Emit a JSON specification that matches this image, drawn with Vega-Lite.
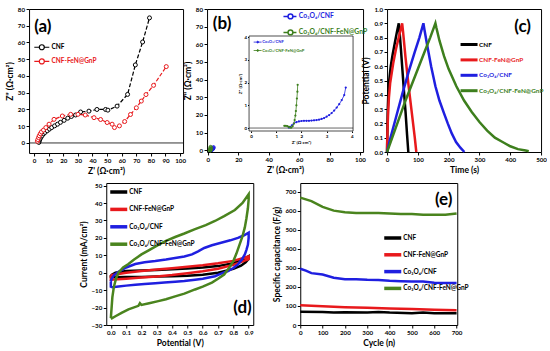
{
"$schema":"https://vega.github.io/schema/vega-lite/v6.json",
"padding":{"left":4,"top":5,"right":0,"bottom":0},
"background":"white",
"config":{
 "font":"Lato",
 "view":{"stroke":"black","strokeWidth":1},
 "axis":{"labelFont":"Lato","labelFontWeight":"bold","labelFontSize":6.2,"labelColor":"black","labelOverlap":false,"labelFlush":false,"labelBound":false,"titleFont":"Lato","titleFontWeight":"bold","titleFontSize":8.5,"titleColor":"black","grid":false,"domain":false,"tickColor":"black","tickSize":3,"labelPadding":1.5,"titlePadding":3},
 "legend":{"labelFont":"Lato","labelFontWeight":"bold","labelFontSize":6.5,"labelColor":"black","rowPadding":2.4,"symbolType":"M-1,0H7.5","symbolStrokeWidth":3,"symbolSize":16,"labelOffset":13,"padding":0,"title":null}
},
"datasets":{
"a":[
{"s":"CNF","x":3.2,"y":0.3},{"s":"CNF","x":3.5,"y":1.2},{"s":"CNF","x":3.8,"y":2},{"s":"CNF","x":4.2,"y":2.8},{"s":"CNF","x":4.8,"y":3.6},{"s":"CNF","x":5.5,"y":4.5},{"s":"CNF","x":6.5,"y":5.5},{"s":"CNF","x":7.5,"y":6.3},{"s":"CNF","x":9,"y":7.3},{"s":"CNF","x":10.5,"y":8.3},{"s":"CNF","x":12,"y":9.2},{"s":"CNF","x":14,"y":10.2},{"s":"CNF","x":16,"y":11.2},{"s":"CNF","x":18,"y":12.3},{"s":"CNF","x":20.5,"y":13.5},{"s":"CNF","x":23,"y":14.8},{"s":"CNF","x":25.5,"y":15.8},{"s":"CNF","x":28.4,"y":16.7},{"s":"CNF","x":31.8,"y":18.5},{"s":"CNF","x":37.5,"y":19},{"s":"CNF","x":43,"y":20},{"s":"CNF","x":48.9,"y":20},{"s":"CNF","x":50.5,"y":19.6},{"s":"CNF","x":56.8,"y":22},{"s":"CNF","x":64,"y":29},{"s":"CNF","x":69.3,"y":46.6},{"s":"CNF","x":74.3,"y":60.3},{"s":"CNF","x":79,"y":74.7},
{"s":"CNF-FeN@GnP","x":2.2,"y":1},{"s":"CNF-FeN@GnP","x":2.5,"y":2},{"s":"CNF-FeN@GnP","x":3,"y":3.2},{"s":"CNF-FeN@GnP","x":3.5,"y":4.3},{"s":"CNF-FeN@GnP","x":4.2,"y":5.5},{"s":"CNF-FeN@GnP","x":5,"y":6.6},{"s":"CNF-FeN@GnP","x":6.4,"y":7.7},{"s":"CNF-FeN@GnP","x":8,"y":9.2},{"s":"CNF-FeN@GnP","x":10.2,"y":11.2},{"s":"CNF-FeN@GnP","x":13.6,"y":14.1},{"s":"CNF-FeN@GnP","x":19.3,"y":16.1},{"s":"CNF-FeN@GnP","x":25,"y":17.1},{"s":"CNF-FeN@GnP","x":30,"y":17.1},{"s":"CNF-FeN@GnP","x":35,"y":16.7},{"s":"CNF-FeN@GnP","x":41,"y":15.1},{"s":"CNF-FeN@GnP","x":45.5,"y":14},{"s":"CNF-FeN@GnP","x":50,"y":12.2},{"s":"CNF-FeN@GnP","x":53.4,"y":11.2},{"s":"CNF-FeN@GnP","x":55,"y":9.2},{"s":"CNF-FeN@GnP","x":58.4,"y":10.2},{"s":"CNF-FeN@GnP","x":62,"y":12.8},{"s":"CNF-FeN@GnP","x":66,"y":17},{"s":"CNF-FeN@GnP","x":70,"y":21},{"s":"CNF-FeN@GnP","x":73.4,"y":25},{"s":"CNF-FeN@GnP","x":76.6,"y":28.9},{"s":"CNF-FeN@GnP","x":81.8,"y":34.4},{"s":"CNF-FeN@GnP","x":90.5,"y":45.6}
],
"b":[
{"s":"Co₃O₄/CNF","x":1.5,"y":0.02},{"s":"Co₃O₄/CNF","x":1.55,"y":0.05},{"s":"Co₃O₄/CNF","x":1.62,"y":0.12},{"s":"Co₃O₄/CNF","x":1.7,"y":0.2},{"s":"Co₃O₄/CNF","x":1.8,"y":0.26},{"s":"Co₃O₄/CNF","x":1.9,"y":0.29},{"s":"Co₃O₄/CNF","x":2.0,"y":0.31},{"s":"Co₃O₄/CNF","x":2.1,"y":0.32},{"s":"Co₃O₄/CNF","x":2.2,"y":0.32},{"s":"Co₃O₄/CNF","x":2.3,"y":0.32},{"s":"Co₃O₄/CNF","x":2.4,"y":0.33},{"s":"Co₃O₄/CNF","x":2.5,"y":0.34},{"s":"Co₃O₄/CNF","x":2.6,"y":0.35},{"s":"Co₃O₄/CNF","x":2.7,"y":0.37},{"s":"Co₃O₄/CNF","x":2.8,"y":0.4},{"s":"Co₃O₄/CNF","x":2.9,"y":0.44},{"s":"Co₃O₄/CNF","x":3.0,"y":0.5},{"s":"Co₃O₄/CNF","x":3.1,"y":0.57},{"s":"Co₃O₄/CNF","x":3.2,"y":0.66},{"s":"Co₃O₄/CNF","x":3.3,"y":0.77},{"s":"Co₃O₄/CNF","x":3.4,"y":0.9},{"s":"Co₃O₄/CNF","x":3.5,"y":1.05},{"s":"Co₃O₄/CNF","x":3.6,"y":1.23},{"s":"Co₃O₄/CNF","x":3.7,"y":1.45},{"s":"Co₃O₄/CNF","x":3.76,"y":1.78},
{"s":"Co₃O₄/CNF-FeN@GnP","x":1.32,"y":0.1},{"s":"Co₃O₄/CNF-FeN@GnP","x":1.38,"y":0.1},{"s":"Co₃O₄/CNF-FeN@GnP","x":1.44,"y":0.08},{"s":"Co₃O₄/CNF-FeN@GnP","x":1.5,"y":0.05},{"s":"Co₃O₄/CNF-FeN@GnP","x":1.55,"y":0.02},{"s":"Co₃O₄/CNF-FeN@GnP","x":1.6,"y":0.02},{"s":"Co₃O₄/CNF-FeN@GnP","x":1.65,"y":0.08},{"s":"Co₃O₄/CNF-FeN@GnP","x":1.7,"y":0.2},{"s":"Co₃O₄/CNF-FeN@GnP","x":1.73,"y":0.35},{"s":"Co₃O₄/CNF-FeN@GnP","x":1.76,"y":0.55},{"s":"Co₃O₄/CNF-FeN@GnP","x":1.78,"y":0.75},{"s":"Co₃O₄/CNF-FeN@GnP","x":1.8,"y":1.0},{"s":"Co₃O₄/CNF-FeN@GnP","x":1.82,"y":1.3},{"s":"Co₃O₄/CNF-FeN@GnP","x":1.84,"y":1.6},{"s":"Co₃O₄/CNF-FeN@GnP","x":1.85,"y":1.9}
],
"c":[
{"s":"CNF","x":0,"y":0},{"s":"CNF","x":1,"y":0.15},{"s":"CNF","x":2,"y":0.28},{"s":"CNF","x":4,"y":0.4},{"s":"CNF","x":7,"y":0.5},{"s":"CNF","x":12,"y":0.6},{"s":"CNF","x":18,"y":0.68},{"s":"CNF","x":25,"y":0.76},{"s":"CNF","x":32,"y":0.84},{"s":"CNF","x":38,"y":0.9},{"s":"CNF","x":40,"y":0.86},{"s":"CNF","x":45,"y":0.72},{"s":"CNF","x":50,"y":0.57},{"s":"CNF","x":55,"y":0.42},{"s":"CNF","x":60,"y":0.28},{"s":"CNF","x":65,"y":0.12},{"s":"CNF","x":69,"y":0},
{"s":"CNF-FeN@GnP","x":0,"y":0},{"s":"CNF-FeN@GnP","x":1,"y":0.12},{"s":"CNF-FeN@GnP","x":3,"y":0.25},{"s":"CNF-FeN@GnP","x":6,"y":0.38},{"s":"CNF-FeN@GnP","x":10,"y":0.48},{"s":"CNF-FeN@GnP","x":20,"y":0.62},{"s":"CNF-FeN@GnP","x":30,"y":0.73},{"s":"CNF-FeN@GnP","x":40,"y":0.82},{"s":"CNF-FeN@GnP","x":49,"y":0.9},{"s":"CNF-FeN@GnP","x":52,"y":0.84},{"s":"CNF-FeN@GnP","x":60,"y":0.66},{"s":"CNF-FeN@GnP","x":70,"y":0.46},{"s":"CNF-FeN@GnP","x":80,"y":0.28},{"s":"CNF-FeN@GnP","x":90,"y":0.1},{"s":"CNF-FeN@GnP","x":95,"y":0},
{"s":"Co₃O₄/CNF","x":0,"y":0},{"s":"Co₃O₄/CNF","x":10,"y":0.09},{"s":"Co₃O₄/CNF","x":30,"y":0.25},{"s":"Co₃O₄/CNF","x":50,"y":0.41},{"s":"Co₃O₄/CNF","x":70,"y":0.56},{"s":"Co₃O₄/CNF","x":90,"y":0.7},{"s":"Co₃O₄/CNF","x":105,"y":0.8},{"s":"Co₃O₄/CNF","x":118,"y":0.9},{"s":"Co₃O₄/CNF","x":121,"y":0.86},{"s":"Co₃O₄/CNF","x":130,"y":0.75},{"s":"Co₃O₄/CNF","x":143,"y":0.6},{"s":"Co₃O₄/CNF","x":157,"y":0.46},{"s":"Co₃O₄/CNF","x":170,"y":0.36},{"s":"Co₃O₄/CNF","x":185,"y":0.27},{"s":"Co₃O₄/CNF","x":197,"y":0.2},{"s":"Co₃O₄/CNF","x":210,"y":0.13},{"s":"Co₃O₄/CNF","x":224,"y":0.07},{"s":"Co₃O₄/CNF","x":238,"y":0.03},{"s":"Co₃O₄/CNF","x":251,"y":0},
{"s":"Co₃O₄/CNF-FeN@GnP","x":0,"y":0},{"s":"Co₃O₄/CNF-FeN@GnP","x":20,"y":0.12},{"s":"Co₃O₄/CNF-FeN@GnP","x":40,"y":0.24},{"s":"Co₃O₄/CNF-FeN@GnP","x":60,"y":0.36},{"s":"Co₃O₄/CNF-FeN@GnP","x":80,"y":0.47},{"s":"Co₃O₄/CNF-FeN@GnP","x":100,"y":0.58},{"s":"Co₃O₄/CNF-FeN@GnP","x":120,"y":0.69},{"s":"Co₃O₄/CNF-FeN@GnP","x":140,"y":0.8},{"s":"Co₃O₄/CNF-FeN@GnP","x":157,"y":0.9},{"s":"Co₃O₄/CNF-FeN@GnP","x":160,"y":0.87},{"s":"Co₃O₄/CNF-FeN@GnP","x":170,"y":0.78},{"s":"Co₃O₄/CNF-FeN@GnP","x":185,"y":0.67},{"s":"Co₃O₄/CNF-FeN@GnP","x":200,"y":0.58},{"s":"Co₃O₄/CNF-FeN@GnP","x":225,"y":0.46},{"s":"Co₃O₄/CNF-FeN@GnP","x":250,"y":0.36},{"s":"Co₃O₄/CNF-FeN@GnP","x":275,"y":0.28},{"s":"Co₃O₄/CNF-FeN@GnP","x":300,"y":0.21},{"s":"Co₃O₄/CNF-FeN@GnP","x":325,"y":0.15},{"s":"Co₃O₄/CNF-FeN@GnP","x":350,"y":0.1},{"s":"Co₃O₄/CNF-FeN@GnP","x":375,"y":0.07},{"s":"Co₃O₄/CNF-FeN@GnP","x":400,"y":0.04},{"s":"Co₃O₄/CNF-FeN@GnP","x":425,"y":0.02},{"s":"Co₃O₄/CNF-FeN@GnP","x":450,"y":0.01},{"s":"Co₃O₄/CNF-FeN@GnP","x":460,"y":0.005}
],
"d":[
{"s":"CNF","i":1,"x":0,"y":-1.5},{"s":"CNF","i":2,"x":0.03,"y":0},{"s":"CNF","i":3,"x":0.1,"y":1},{"s":"CNF","i":4,"x":0.2,"y":1.3},{"s":"CNF","i":5,"x":0.3,"y":1.6},{"s":"CNF","i":6,"x":0.4,"y":2},{"s":"CNF","i":7,"x":0.5,"y":2.4},{"s":"CNF","i":8,"x":0.6,"y":3},{"s":"CNF","i":9,"x":0.7,"y":3.8},{"s":"CNF","i":10,"x":0.8,"y":5.5},{"s":"CNF","i":11,"x":0.86,"y":7.5},{"s":"CNF","i":12,"x":0.89,"y":9},{"s":"CNF","i":13,"x":0.9,"y":9.5},{"s":"CNF","i":14,"x":0.9,"y":8},{"s":"CNF","i":15,"x":0.88,"y":6},{"s":"CNF","i":16,"x":0.85,"y":4},{"s":"CNF","i":17,"x":0.8,"y":2.2},{"s":"CNF","i":18,"x":0.7,"y":0},{"s":"CNF","i":19,"x":0.6,"y":-1.2},{"s":"CNF","i":20,"x":0.5,"y":-1.7},{"s":"CNF","i":21,"x":0.4,"y":-2},{"s":"CNF","i":22,"x":0.3,"y":-2.2},{"s":"CNF","i":23,"x":0.2,"y":-2.4},{"s":"CNF","i":24,"x":0.1,"y":-2.5},{"s":"CNF","i":25,"x":0.02,"y":-2.6},{"s":"CNF","i":26,"x":0,"y":-2.3},{"s":"CNF","i":27,"x":0,"y":-1.5},
{"s":"CNF-FeN@GnP","i":1,"x":0,"y":-1.5},{"s":"CNF-FeN@GnP","i":2,"x":0.1,"y":0},{"s":"CNF-FeN@GnP","i":3,"x":0.2,"y":1},{"s":"CNF-FeN@GnP","i":4,"x":0.3,"y":1.8},{"s":"CNF-FeN@GnP","i":5,"x":0.4,"y":2.6},{"s":"CNF-FeN@GnP","i":6,"x":0.5,"y":3.4},{"s":"CNF-FeN@GnP","i":7,"x":0.6,"y":4.3},{"s":"CNF-FeN@GnP","i":8,"x":0.7,"y":5.4},{"s":"CNF-FeN@GnP","i":9,"x":0.8,"y":6.8},{"s":"CNF-FeN@GnP","i":10,"x":0.9,"y":9.3},{"s":"CNF-FeN@GnP","i":11,"x":0.9,"y":7.8},{"s":"CNF-FeN@GnP","i":12,"x":0.8,"y":4.5},{"s":"CNF-FeN@GnP","i":13,"x":0.7,"y":2.3},{"s":"CNF-FeN@GnP","i":14,"x":0.6,"y":0.8},{"s":"CNF-FeN@GnP","i":15,"x":0.5,"y":-0.3},{"s":"CNF-FeN@GnP","i":16,"x":0.4,"y":-1.3},{"s":"CNF-FeN@GnP","i":17,"x":0.3,"y":-2.1},{"s":"CNF-FeN@GnP","i":18,"x":0.2,"y":-2.8},{"s":"CNF-FeN@GnP","i":19,"x":0.1,"y":-3.4},{"s":"CNF-FeN@GnP","i":20,"x":0,"y":-4},{"s":"CNF-FeN@GnP","i":21,"x":0,"y":-1.5},
{"s":"Co₃O₄/CNF","i":1,"x":0,"y":-5},{"s":"Co₃O₄/CNF","i":2,"x":0.005,"y":-3.5},{"s":"Co₃O₄/CNF","i":3,"x":0.02,"y":-1.5},{"s":"Co₃O₄/CNF","i":4,"x":0.05,"y":0.5},{"s":"Co₃O₄/CNF","i":5,"x":0.1,"y":3},{"s":"Co₃O₄/CNF","i":6,"x":0.16,"y":5},{"s":"Co₃O₄/CNF","i":7,"x":0.22,"y":6},{"s":"Co₃O₄/CNF","i":8,"x":0.29,"y":6.7},{"s":"Co₃O₄/CNF","i":9,"x":0.36,"y":7.6},{"s":"Co₃O₄/CNF","i":10,"x":0.42,"y":8.5},{"s":"Co₃O₄/CNF","i":11,"x":0.48,"y":9.3},{"s":"Co₃O₄/CNF","i":12,"x":0.53,"y":10.5},{"s":"Co₃O₄/CNF","i":13,"x":0.57,"y":12.3},{"s":"Co₃O₄/CNF","i":14,"x":0.61,"y":14.2},{"s":"Co₃O₄/CNF","i":15,"x":0.66,"y":15.8},{"s":"Co₃O₄/CNF","i":16,"x":0.72,"y":17.2},{"s":"Co₃O₄/CNF","i":17,"x":0.78,"y":18.6},{"s":"Co₃O₄/CNF","i":18,"x":0.83,"y":20},{"s":"Co₃O₄/CNF","i":19,"x":0.87,"y":21.5},{"s":"Co₃O₄/CNF","i":20,"x":0.9,"y":23},{"s":"Co₃O₄/CNF","i":21,"x":0.9,"y":20},{"s":"Co₃O₄/CNF","i":22,"x":0.895,"y":16},{"s":"Co₃O₄/CNF","i":23,"x":0.885,"y":13},{"s":"Co₃O₄/CNF","i":24,"x":0.875,"y":10.5},{"s":"Co₃O₄/CNF","i":25,"x":0.855,"y":7.5},{"s":"Co₃O₄/CNF","i":26,"x":0.83,"y":4.8},{"s":"Co₃O₄/CNF","i":27,"x":0.8,"y":2.7},{"s":"Co₃O₄/CNF","i":28,"x":0.765,"y":1},{"s":"Co₃O₄/CNF","i":29,"x":0.72,"y":-0.5},{"s":"Co₃O₄/CNF","i":30,"x":0.68,"y":-2},{"s":"Co₃O₄/CNF","i":31,"x":0.6,"y":-3.5},{"s":"Co₃O₄/CNF","i":32,"x":0.55,"y":-4},{"s":"Co₃O₄/CNF","i":33,"x":0.48,"y":-4.8},{"s":"Co₃O₄/CNF","i":34,"x":0.42,"y":-5.2},{"s":"Co₃O₄/CNF","i":35,"x":0.35,"y":-5.6},{"s":"Co₃O₄/CNF","i":36,"x":0.29,"y":-6},{"s":"Co₃O₄/CNF","i":37,"x":0.22,"y":-6.4},{"s":"Co₃O₄/CNF","i":38,"x":0.16,"y":-6.9},{"s":"Co₃O₄/CNF","i":39,"x":0.1,"y":-7.4},{"s":"Co₃O₄/CNF","i":40,"x":0.05,"y":-7.9},{"s":"Co₃O₄/CNF","i":41,"x":0.01,"y":-8.3},{"s":"Co₃O₄/CNF","i":42,"x":0,"y":-8},{"s":"Co₃O₄/CNF","i":43,"x":0,"y":-5},
{"s":"Co₃O₄/CNF-FeN@GnP","i":1,"x":0,"y":-26},{"s":"Co₃O₄/CNF-FeN@GnP","i":2,"x":0.005,"y":-20},{"s":"Co₃O₄/CNF-FeN@GnP","i":3,"x":0.01,"y":-14},{"s":"Co₃O₄/CNF-FeN@GnP","i":4,"x":0.02,"y":-8},{"s":"Co₃O₄/CNF-FeN@GnP","i":5,"x":0.035,"y":-3},{"s":"Co₃O₄/CNF-FeN@GnP","i":6,"x":0.05,"y":0},{"s":"Co₃O₄/CNF-FeN@GnP","i":7,"x":0.08,"y":3},{"s":"Co₃O₄/CNF-FeN@GnP","i":8,"x":0.115,"y":5},{"s":"Co₃O₄/CNF-FeN@GnP","i":9,"x":0.15,"y":7.5},{"s":"Co₃O₄/CNF-FeN@GnP","i":10,"x":0.2,"y":10.5},{"s":"Co₃O₄/CNF-FeN@GnP","i":11,"x":0.25,"y":13},{"s":"Co₃O₄/CNF-FeN@GnP","i":12,"x":0.31,"y":16},{"s":"Co₃O₄/CNF-FeN@GnP","i":13,"x":0.36,"y":18.3},{"s":"Co₃O₄/CNF-FeN@GnP","i":14,"x":0.42,"y":20.5},{"s":"Co₃O₄/CNF-FeN@GnP","i":15,"x":0.48,"y":22.5},{"s":"Co₃O₄/CNF-FeN@GnP","i":16,"x":0.55,"y":25},{"s":"Co₃O₄/CNF-FeN@GnP","i":17,"x":0.62,"y":27.3},{"s":"Co₃O₄/CNF-FeN@GnP","i":18,"x":0.68,"y":29.7},{"s":"Co₃O₄/CNF-FeN@GnP","i":19,"x":0.74,"y":32.5},{"s":"Co₃O₄/CNF-FeN@GnP","i":20,"x":0.81,"y":36},{"s":"Co₃O₄/CNF-FeN@GnP","i":21,"x":0.86,"y":40},{"s":"Co₃O₄/CNF-FeN@GnP","i":22,"x":0.9,"y":45},{"s":"Co₃O₄/CNF-FeN@GnP","i":23,"x":0.9,"y":42},{"s":"Co₃O₄/CNF-FeN@GnP","i":24,"x":0.895,"y":37},{"s":"Co₃O₄/CNF-FeN@GnP","i":25,"x":0.885,"y":31},{"s":"Co₃O₄/CNF-FeN@GnP","i":26,"x":0.875,"y":26},{"s":"Co₃O₄/CNF-FeN@GnP","i":27,"x":0.86,"y":21},{"s":"Co₃O₄/CNF-FeN@GnP","i":28,"x":0.84,"y":16},{"s":"Co₃O₄/CNF-FeN@GnP","i":29,"x":0.82,"y":11},{"s":"Co₃O₄/CNF-FeN@GnP","i":30,"x":0.8,"y":6.7},{"s":"Co₃O₄/CNF-FeN@GnP","i":31,"x":0.77,"y":2.5},{"s":"Co₃O₄/CNF-FeN@GnP","i":32,"x":0.74,"y":-1},{"s":"Co₃O₄/CNF-FeN@GnP","i":33,"x":0.7,"y":-3.5},{"s":"Co₃O₄/CNF-FeN@GnP","i":34,"x":0.66,"y":-5.7},{"s":"Co₃O₄/CNF-FeN@GnP","i":35,"x":0.6,"y":-8},{"s":"Co₃O₄/CNF-FeN@GnP","i":36,"x":0.55,"y":-9.6},{"s":"Co₃O₄/CNF-FeN@GnP","i":37,"x":0.48,"y":-12},{"s":"Co₃O₄/CNF-FeN@GnP","i":38,"x":0.42,"y":-13.6},{"s":"Co₃O₄/CNF-FeN@GnP","i":39,"x":0.36,"y":-15.2},{"s":"Co₃O₄/CNF-FeN@GnP","i":40,"x":0.31,"y":-16.3},{"s":"Co₃O₄/CNF-FeN@GnP","i":41,"x":0.25,"y":-17.5},{"s":"Co₃O₄/CNF-FeN@GnP","i":42,"x":0.2,"y":-18.5},{"s":"Co₃O₄/CNF-FeN@GnP","i":43,"x":0.19,"y":-17.5},{"s":"Co₃O₄/CNF-FeN@GnP","i":44,"x":0.18,"y":-19},{"s":"Co₃O₄/CNF-FeN@GnP","i":45,"x":0.115,"y":-21},{"s":"Co₃O₄/CNF-FeN@GnP","i":46,"x":0.07,"y":-23},{"s":"Co₃O₄/CNF-FeN@GnP","i":47,"x":0.03,"y":-25},{"s":"Co₃O₄/CNF-FeN@GnP","i":48,"x":0,"y":-26.5}
],
"e":[
{"s":"CNF","x":0,"y":70},{"s":"CNF","x":100,"y":68},{"s":"CNF","x":150,"y":65},{"s":"CNF","x":200,"y":67},{"s":"CNF","x":300,"y":66},{"s":"CNF","x":350,"y":68},{"s":"CNF","x":400,"y":65},{"s":"CNF","x":500,"y":62},{"s":"CNF","x":550,"y":65},{"s":"CNF","x":600,"y":62},{"s":"CNF","x":700,"y":62},
{"s":"CNF-FeN@GnP","x":0,"y":103},{"s":"CNF-FeN@GnP","x":100,"y":98},{"s":"CNF-FeN@GnP","x":200,"y":93},{"s":"CNF-FeN@GnP","x":300,"y":90},{"s":"CNF-FeN@GnP","x":400,"y":87},{"s":"CNF-FeN@GnP","x":500,"y":84},{"s":"CNF-FeN@GnP","x":600,"y":80},{"s":"CNF-FeN@GnP","x":700,"y":77},
{"s":"Co₃O₄/CNF","x":0,"y":295},{"s":"Co₃O₄/CNF","x":25,"y":285},{"s":"Co₃O₄/CNF","x":50,"y":272},{"s":"Co₃O₄/CNF","x":100,"y":265},{"s":"Co₃O₄/CNF","x":150,"y":248},{"s":"Co₃O₄/CNF","x":200,"y":240},{"s":"Co₃O₄/CNF","x":250,"y":240},{"s":"Co₃O₄/CNF","x":300,"y":237},{"s":"Co₃O₄/CNF","x":350,"y":236},{"s":"Co₃O₄/CNF","x":400,"y":232},{"s":"Co₃O₄/CNF","x":450,"y":230},{"s":"Co₃O₄/CNF","x":500,"y":228},{"s":"Co₃O₄/CNF","x":550,"y":228},{"s":"Co₃O₄/CNF","x":600,"y":222},{"s":"Co₃O₄/CNF","x":650,"y":220},{"s":"Co₃O₄/CNF","x":700,"y":220},
{"s":"Co₃O₄/CNF-FeN@GnP","x":0,"y":668},{"s":"Co₃O₄/CNF-FeN@GnP","x":50,"y":650},{"s":"Co₃O₄/CNF-FeN@GnP","x":100,"y":620},{"s":"Co₃O₄/CNF-FeN@GnP","x":150,"y":600},{"s":"Co₃O₄/CNF-FeN@GnP","x":200,"y":592},{"s":"Co₃O₄/CNF-FeN@GnP","x":250,"y":588},{"s":"Co₃O₄/CNF-FeN@GnP","x":300,"y":588},{"s":"Co₃O₄/CNF-FeN@GnP","x":350,"y":587},{"s":"Co₃O₄/CNF-FeN@GnP","x":400,"y":585},{"s":"Co₃O₄/CNF-FeN@GnP","x":450,"y":582},{"s":"Co₃O₄/CNF-FeN@GnP","x":500,"y":582},{"s":"Co₃O₄/CNF-FeN@GnP","x":550,"y":578},{"s":"Co₃O₄/CNF-FeN@GnP","x":600,"y":578},{"s":"Co₃O₄/CNF-FeN@GnP","x":650,"y":578},{"s":"Co₃O₄/CNF-FeN@GnP","x":700,"y":585}
]
},
"center":true,
"spacing":6,
"resolve":{"scale":{"color":"independent"},"legend":{"color":"independent"}},
"vconcat":[
{"hconcat":[
 {"width":154,"height":144,
  "layer":[
   {"data":{"values":[{}]},"mark":{"type":"rule","color":"black","strokeWidth":0.8},"encoding":{"y":{"datum":0,"type":"quantitative","title":"Z\" (Ω·cm²)","scale":{"domain":[-6,80],"nice":false,"zero":false},"axis":{"values":[0,10,20,30,40,50,60,70,80]}}}},
   {"data":{"name":"a"},"mark":{"type":"line","strokeDash":[4,2],"strokeWidth":1.2,"point":{"filled":false,"fill":"white","size":16,"strokeWidth":1}},
    "encoding":{
     "x":{"field":"x","type":"quantitative","title":"Z' (Ω·cm²)","scale":{"domain":[-3.5,102],"nice":false,"zero":false},"axis":{"values":[0,10,20,30,40,50,60,70,80,90,100]}},
     "y":{"field":"y","type":"quantitative","title":"Z\" (Ω·cm²)","scale":{"domain":[-6,80],"nice":false,"zero":false},"axis":{"values":[0,10,20,30,40,50,60,70,80]}},
     "color":{"field":"s","type":"nominal","scale":{"domain":["CNF","CNF-FeN@GnP"],"range":["#000000","#e8191c"]},
      "legend":{"orient":"none","legendX":4,"legendY":35,"symbolType":"M-1,0H1.5M4,0H6.5M4,0A1.25,1.25,0,1,1,1.5,0A1.25,1.25,0,1,1,4,0","symbolSize":16,"symbolStrokeWidth":1.2,"labelOffset":12,"rowPadding":3.2,"labelFontSize":6.5,
       "encode":{"labels":{"update":{"fill":{"signal":"datum.label == 'CNF' ? '#000000' : '#e8191c'"}}}}}}
    }},
   {"data":{"values":[{}]},"mark":{"type":"text","fontSize":17,"fontWeight":"bold","align":"left","baseline":"middle","font":"Lato"},"encoding":{
     "x":{"datum":0,"type":"quantitative","title":"Z' (Ω·cm²)","scale":{"domain":[-3.5,102],"nice":false,"zero":false},"axis":{"values":[0,10,20,30,40,50,60,70,80,90,100]}},
     "y":{"datum":69,"type":"quantitative","title":"Z\" (Ω·cm²)","scale":{"domain":[-6,80],"nice":false,"zero":false},"axis":{"values":[0,10,20,30,40,50,60,70,80]}},
     "text":{"value":"(a)"}}}
  ]},
 {"width":156,"height":143,
  "resolve":{"scale":{"x":"independent","y":"independent","color":"independent"},"axis":{"x":"independent","y":"independent"},"legend":{"color":"independent"}},
  "layer":[
   {"layer":[
     {"data":{"name":"b"},"mark":{"type":"line","strokeWidth":1,"point":{"filled":false,"size":10,"strokeWidth":0.8}},
      "encoding":{
       "x":{"field":"x","type":"quantitative","title":"Z' (Ω·cm²)","scale":{"domain":[-0.5,102],"nice":false,"zero":false},"axis":{"values":[0,20,40,60,80,100]}},
       "y":{"field":"y","type":"quantitative","title":"Z\" (Ω·cm²)","scale":{"domain":[-1,80],"nice":false,"zero":false},"axis":{"values":[0,10,20,30,40,50,60,70,80]}},
       "color":{"field":"s","type":"nominal","scale":{"domain":["Co₃O₄/CNF","Co₃O₄/CNF-FeN@GnP"],"range":["#1f1fe0","#3d7f1d"]},
        "legend":{"orient":"none","legendX":75,"legendY":4,"symbolType":"M-1,0H1.3M3.7,0H5.5M3.7,0A1.2,1.2,0,1,1,1.3,0A1.2,1.2,0,1,1,3.7,0","symbolSize":16,"symbolStrokeWidth":1.5,"labelOffset":10,"rowPadding":4,"labelFontSize":6.8,
         "encode":{"labels":{"update":{"fill":{"signal":"indexof(datum.label,'FeN') >= 0 ? '#3d7f1d' : '#1f1fe0'"}}}}}}
      }},
     {"data":{"values":[{}]},"mark":{"type":"text","fontSize":17,"fontWeight":"bold","align":"left","baseline":"middle","font":"Lato"},"encoding":{
       "x":{"datum":3.3,"type":"quantitative","title":"Z' (Ω·cm²)","scale":{"domain":[-0.5,102],"nice":false,"zero":false},"axis":{"values":[0,20,40,60,80,100]}},
       "y":{"datum":71.5,"type":"quantitative","title":"Z\" (Ω·cm²)","scale":{"domain":[-1,80],"nice":false,"zero":false},"axis":{"values":[0,10,20,30,40,50,60,70,80]}},
       "text":{"value":"(b)"}}}
   ]},
   {"layer":[
     {"data":{"values":[{}]},"mark":{"type":"rect","fill":"white","stroke":"black","strokeWidth":0.7},
      "encoding":{
       "x":{"datum":-0.08,"type":"quantitative","title":"Z' (Ω cm²)","scale":{"domain":[-0.08,4.05],"range":[42,146],"nice":false,"zero":false},"axis":{"orient":"bottom","offset":-21,"values":[0,1,2,3,4],"labelFontSize":4.5,"titleFontSize":4.5,"tickSize":1.5,"labelPadding":1,"titlePadding":1}},
       "x2":{"datum":4.05},
       "y":{"datum":-0.13,"type":"quantitative","title":"Z\" (Ω·cm²)","scale":{"domain":[-0.13,4.05],"range":[122,27],"nice":false,"zero":false},"axis":{"orient":"left","offset":-42,"values":[0,1,2,3,4],"labelFontSize":4.5,"titleFontSize":4.5,"tickSize":1.5,"labelPadding":1,"titlePadding":1}},
       "y2":{"datum":4.05}
      }},
     {"data":{"values":[{}]},"mark":{"type":"rule","color":"black","strokeWidth":0.6},"encoding":{
       "x":{"datum":-0.08,"type":"quantitative","title":"Z' (Ω cm²)","scale":{"domain":[-0.08,4.05],"range":[42,146],"nice":false,"zero":false},"axis":{"orient":"bottom","offset":-21,"values":[0,1,2,3,4],"labelFontSize":4.5,"titleFontSize":4.5,"tickSize":1.5,"labelPadding":1,"titlePadding":1}},
       "x2":{"datum":4.05},
       "y":{"datum":0,"type":"quantitative","title":"Z\" (Ω·cm²)","scale":{"domain":[-0.13,4.05],"range":[122,27],"nice":false,"zero":false},"axis":{"orient":"left","offset":-42,"values":[0,1,2,3,4],"labelFontSize":4.5,"titleFontSize":4.5,"tickSize":1.5,"labelPadding":1,"titlePadding":1}}}},
     {"data":{"name":"b"},"mark":{"type":"line","strokeWidth":0.8,"point":{"filled":true,"size":5}},
      "encoding":{
       "x":{"field":"x","type":"quantitative","title":"Z' (Ω cm²)","scale":{"domain":[-0.08,4.05],"range":[42,146],"nice":false,"zero":false},"axis":{"orient":"bottom","offset":-21,"values":[0,1,2,3,4],"labelFontSize":4.5,"titleFontSize":4.5,"tickSize":1.5,"labelPadding":1,"titlePadding":1}},
       "y":{"field":"y","type":"quantitative","title":"Z\" (Ω·cm²)","scale":{"domain":[-0.13,4.05],"range":[122,27],"nice":false,"zero":false},"axis":{"orient":"left","offset":-42,"values":[0,1,2,3,4],"labelFontSize":4.5,"titleFontSize":4.5,"tickSize":1.5,"labelPadding":1,"titlePadding":1}},
       "color":{"field":"s","type":"nominal","scale":{"domain":["Co₃O₄/CNF","Co₃O₄/CNF-FeN@GnP"],"range":["#1f1fe0","#3d7f1d"]},
        "legend":{"orient":"none","legendX":46,"legendY":31,"symbolType":"M-1,0H4.3M2.3,0A0.6,0.6,0,1,1,1.1,0A0.6,0.6,0,1,1,2.3,0","symbolSize":9,"symbolStrokeWidth":0.8,"rowPadding":2.4,"labelFontSize":4.2,"labelOffset":5,
         "encode":{"labels":{"update":{"fill":{"signal":"indexof(datum.label,'FeN') >= 0 ? '#3d7f1d' : '#1f1fe0'"}}}}}}
      }}
   ]}
  ]},
 {"width":154,"height":143,
  "layer":[
   {"data":{"name":"c"},"mark":{"type":"line","strokeWidth":2.5},
    "encoding":{
     "x":{"field":"x","type":"quantitative","title":"Time (s)","scale":{"domain":[0,500],"nice":false},"axis":{"values":[0,100,200,300,400,500]}},
     "y":{"field":"y","type":"quantitative","title":"Potential (V)","scale":{"domain":[0,1],"nice":false},"axis":{"values":[0,0.1,0.2,0.3,0.4,0.5,0.6,0.7,0.8,0.9,1.0],"format":".1f"}},
     "color":{"field":"s","type":"nominal","scale":{"domain":["CNF","CNF-FeN@GnP","Co₃O₄/CNF","Co₃O₄/CNF-FeN@GnP"],"range":["#000000","#e8191c","#1f1fe0","#3d7f1d"]},
      "legend":{"orient":"none","legendX":72,"legendY":32,"labelFontSize":6.4,
       "encode":{"labels":{"update":{"fill":{"signal":"datum.label == 'CNF' ? '#000000' : datum.label == 'CNF-FeN@GnP' ? '#e8191c' : indexof(datum.label,'FeN') >= 0 ? '#3d7f1d' : '#1f1fe0'"}}}}}}
    }},
   {"data":{"values":[{}]},"mark":{"type":"text","fontSize":17,"fontWeight":"bold","align":"left","baseline":"middle","font":"Lato"},"encoding":{
     "x":{"datum":413,"type":"quantitative","title":"Time (s)","scale":{"domain":[0,500],"nice":false},"axis":{"values":[0,100,200,300,400,500]}},
     "y":{"datum":0.876,"type":"quantitative","title":"Potential (V)","scale":{"domain":[0,1],"nice":false},"axis":{"values":[0,0.1,0.2,0.3,0.4,0.5,0.6,0.7,0.8,0.9,1.0],"format":".1f"}},
     "text":{"value":"(c)"}}}
  ]}
],"spacing":24,"bounds":"flush","resolve":{"scale":{"color":"independent"},"legend":{"color":"independent"}}},
{"hconcat":[
 {"width":147,"height":142,
  "layer":[
   {"data":{"name":"d"},"mark":{"type":"line","strokeWidth":2.5},
    "encoding":{
     "x":{"field":"x","type":"quantitative","title":"Potential (V)","scale":{"domain":[-0.03,0.93],"nice":false,"zero":false},"axis":{"values":[0,0.1,0.2,0.3,0.4,0.5,0.6,0.7,0.8,0.9],"format":".1f"}},
     "y":{"field":"y","type":"quantitative","title":"Current (mA/cm²)","scale":{"domain":[-30,51.5],"nice":false,"zero":false},"axis":{"values":[-30,-20,-10,0,10,20,30,40,50],"titlePadding":2}},
     "order":{"field":"i","type":"quantitative"},
     "color":{"field":"s","type":"nominal","scale":{"domain":["CNF","CNF-FeN@GnP","Co₃O₄/CNF","Co₃O₄/CNF-FeN@GnP"],"range":["#000000","#e8191c","#1f1fe0","#4a841e"]},
      "legend":{"orient":"none","legendX":2,"legendY":5,"rowPadding":3.4,"symbolStrokeWidth":3.5}}
    }},
   {"data":{"values":[{}]},"mark":{"type":"text","fontSize":17,"fontWeight":"bold","align":"right","baseline":"middle","font":"Lato"},"encoding":{
     "x":{"datum":0.92,"type":"quantitative","title":"Potential (V)","scale":{"domain":[-0.03,0.93],"nice":false,"zero":false},"axis":{"values":[0,0.1,0.2,0.3,0.4,0.5,0.6,0.7,0.8,0.9],"format":".1f"}},
     "y":{"datum":-20,"type":"quantitative","title":"Current (mA/cm²)","scale":{"domain":[-30,51.5],"nice":false,"zero":false},"axis":{"values":[-30,-20,-10,0,10,20,30,40,50],"titlePadding":2}},
     "text":{"value":"(d)"}}}
  ]},
 {"width":157,"height":142,
  "layer":[
   {"data":{"name":"e"},"mark":{"type":"line","strokeWidth":2.5},
    "encoding":{
     "x":{"field":"x","type":"quantitative","title":"Cycle (n)","scale":{"domain":[0,703],"nice":false},"axis":{"values":[0,100,200,300,400,500,600,700]}},
     "y":{"field":"y","type":"quantitative","title":"Specific capacitance (F/g)","scale":{"domain":[0,745],"nice":false},"axis":{"values":[0,100,200,300,400,500,600,700]}},
     "color":{"field":"s","type":"nominal","scale":{"domain":["CNF","CNF-FeN@GnP","Co₃O₄/CNF","Co₃O₄/CNF-FeN@GnP"],"range":["#000000","#e8191c","#1f1fe0","#4a841e"]},
      "legend":{"orient":"none","legendX":82,"legendY":51,"rowPadding":2.8,"symbolStrokeWidth":3.5}}
    }},
   {"data":{"values":[{}]},"mark":{"type":"text","fontSize":17,"fontWeight":"bold","align":"left","baseline":"middle","font":"Lato"},"encoding":{
     "x":{"datum":603,"type":"quantitative","title":"Cycle (n)","scale":{"domain":[0,703],"nice":false},"axis":{"values":[0,100,200,300,400,500,600,700]}},
     "y":{"datum":656,"type":"quantitative","title":"Specific capacitance (F/g)","scale":{"domain":[0,745],"nice":false},"axis":{"values":[0,100,200,300,400,500,600,700]}},
     "text":{"value":"(e)"}}}
  ]}
],"spacing":47,"bounds":"flush","resolve":{"scale":{"color":"independent"},"legend":{"color":"independent"}}}
]
}
